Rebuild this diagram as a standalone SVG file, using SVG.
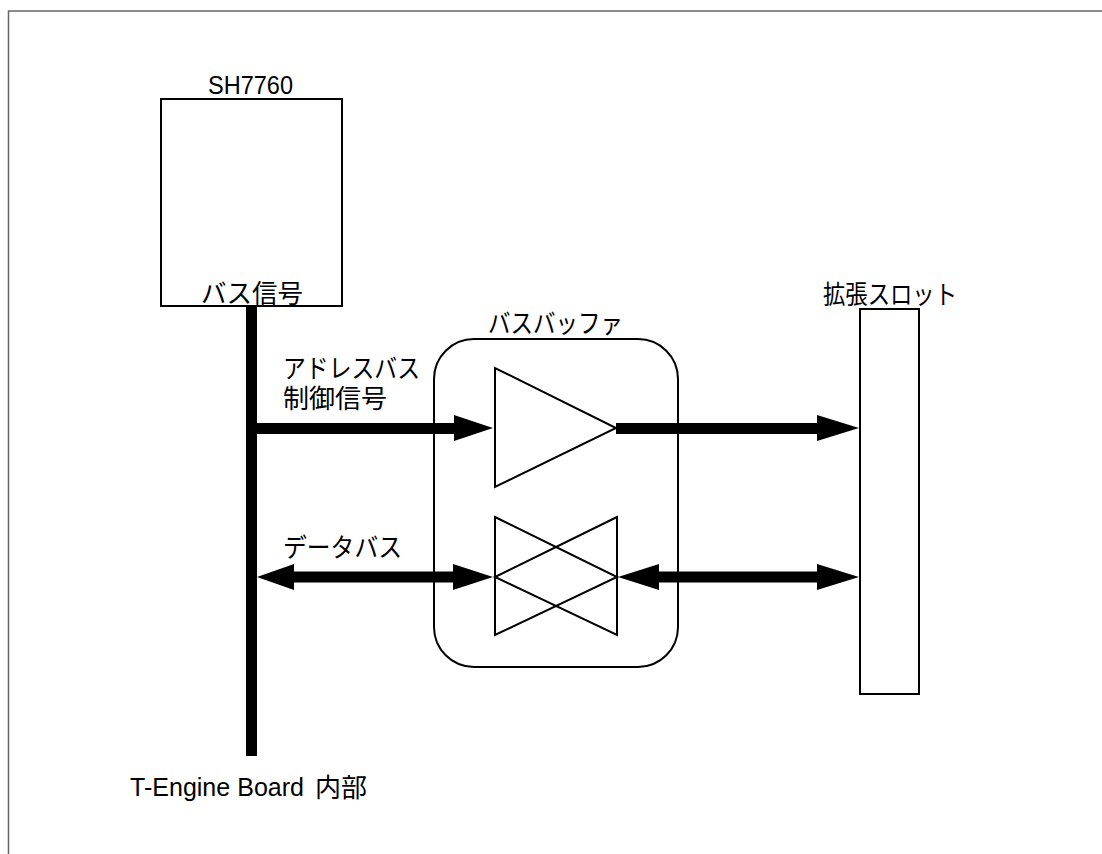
<svg xmlns="http://www.w3.org/2000/svg" width="1102" height="854" viewBox="0 0 1102 854">
<style>
.t{font-family:"Liberation Sans","Noto Sans CJK JP",sans-serif;font-size:26px;fill:#000}
.s{fill:none;stroke:#000;stroke-width:2}
.w{fill:#fff;stroke:#000;stroke-width:2}
.b{stroke:#000;stroke-width:11;fill:none}
.a{fill:#000}
</style>
<rect width="1102" height="854" fill="#fff"/>
<path d="M8.5 854V11H1102" fill="none" stroke="#666" stroke-width="1.5"/>
<g id="sh7760"><rect class="w" x="161" y="99" width="181" height="207"/><text class="t" x="208" y="94" textLength="85" lengthAdjust="spacingAndGlyphs">SH7760</text><text class="t" x="201" y="303" textLength="102" lengthAdjust="spacingAndGlyphs">バス信号</text></g>
<g id="busbuffer"><rect class="s" x="434" y="339" width="244" height="328" rx="40"/><text class="t" x="488" y="333" textLength="135" lengthAdjust="spacingAndGlyphs">バスバッファ</text></g>
<g id="buffer1"><path class="s" d="M495 368V487L616 428Z"/></g>
<g id="buffer2"><path class="s" d="M495 517L617 577L495 635Z"/><path class="s" d="M617 517L495 577L617 635Z"/></g>
<g id="slot"><rect class="w" x="860" y="309" width="59" height="385"/><text class="t" x="823" y="304" textLength="134" lengthAdjust="spacingAndGlyphs">拡張スロット</text></g>
<g id="connectors">
<path class="b" d="M251.5 306V756M251 428.5H460M616 428.5H825M290 577H460M655 577H825"/>
<path class="a" d="M493 428L454 415V441ZM859 428L817 415V441ZM493 577L453 564V590ZM257 577L294 564V590ZM859 577L817 564V590ZM618 577L659 564V590Z"/>
</g>
<text class="t" x="283" y="378" textLength="137" lengthAdjust="spacingAndGlyphs">アドレスバス</text>
<text class="t" x="283" y="408" textLength="104" lengthAdjust="spacingAndGlyphs">制御信号</text>
<text class="t" x="283" y="557" textLength="119" lengthAdjust="spacingAndGlyphs">データバス</text>
<text class="t" x="130" y="796" textLength="174" lengthAdjust="spacingAndGlyphs">T-Engine Board</text>
<text class="t" x="315" y="797">内部</text>
</svg>
